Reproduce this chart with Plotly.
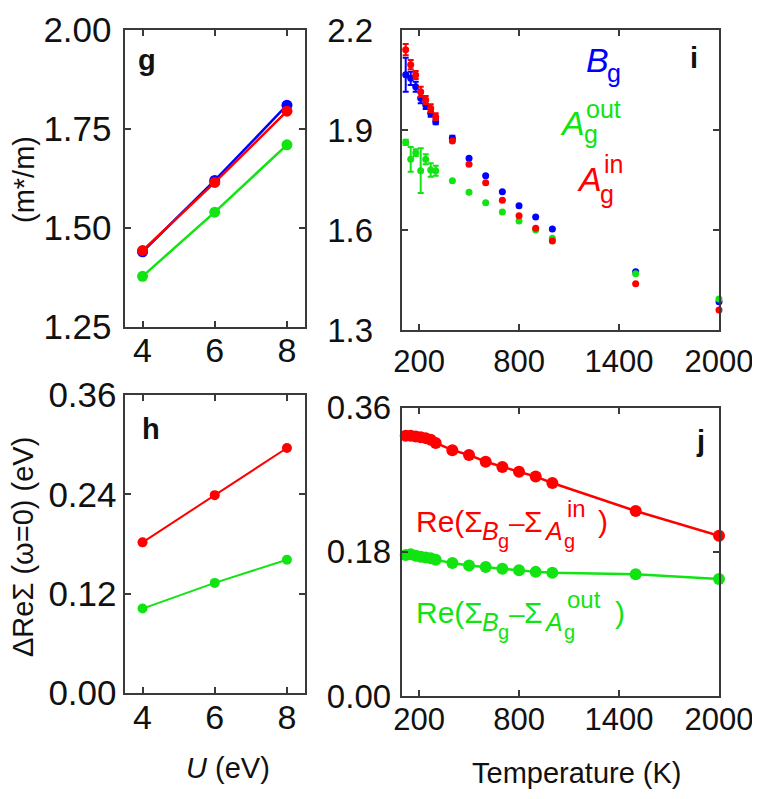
import plotly.graph_objects as go

# ---------------- data ----------------
U_vals = [4, 6, 8]
g_Bg = [1.44, 1.62, 1.81]
g_Ain = [1.443, 1.615, 1.795]
g_Aout = [1.378, 1.54, 1.71]

h_in = [0.182, 0.239, 0.296]
h_out = [0.102, 0.133, 0.161]

T_vals = [120, 150, 180, 210, 240, 270, 300, 400, 500, 600, 700, 800, 900, 1000, 1500, 2000]
i_Bg = [2.066, 2.055, 2.03, 1.995, 1.975, 1.95, 1.925, 1.875, 1.815, 1.763, 1.715, 1.673, 1.639, 1.603, 1.475, 1.385]
i_Bg_err = [0.051, 0.02, 0.015, 0.015, 0.012, 0.01, 0.008, 0.008, 0, 0, 0, 0, 0, 0, 0, 0]
i_Ain = [2.141, 2.096, 2.065, 2.015, 1.99, 1.965, 1.94, 1.867, 1.797, 1.742, 1.689, 1.643, 1.605, 1.567, 1.439, 1.36]
i_Ain_err = [0.017, 0.014, 0.012, 0.015, 0.012, 0.012, 0.01, 0, 0, 0, 0, 0, 0, 0, 0, 0]
i_Aout = [1.863, 1.812, 1.832, 1.778, 1.812, 1.78, 1.778, 1.748, 1.713, 1.682, 1.654, 1.627, 1.60, 1.575, 1.469, 1.393]
i_Aout_err = [0.008, 0.037, 0.01, 0.067, 0.015, 0.02, 0.015, 0, 0, 0, 0, 0, 0, 0, 0, 0]

j_in = [0.325, 0.325, 0.324, 0.323, 0.322, 0.320, 0.316, 0.307, 0.301, 0.2925, 0.286, 0.280, 0.274, 0.266, 0.231, 0.200]
j_out = [0.176, 0.177, 0.175, 0.174, 0.173, 0.172, 0.170, 0.166, 0.163, 0.161, 0.159, 0.157, 0.155, 0.154, 0.152, 0.146]

g_ticks = [1.25, 1.50, 1.75, 2.00]
h_ticks = [0.00, 0.12, 0.24, 0.36]
i_ticks = [1.3, 1.6, 1.9, 2.2]
j_ticks = [0.00, 0.18, 0.36]
U_ticks = [4, 6, 8]
T_ticks = [200, 800, 1400, 2000]

BLUE = "#0000ff"
RED = "#ff0000"
GREEN = "#12e312"
FONT = "Liberation Sans, Arial, Helvetica, sans-serif"
OFF = 8  # default page body margin
W, H = 760 - 2 * OFF, 799 - 2 * OFF


def px(x):
    return (x - OFF) / W


def py(y):
    return 1 - (y - OFF) / H


fig = go.Figure()

# panel g
for vals, col in [(g_Bg, BLUE), (g_Aout, GREEN), (g_Ain, RED)]:
    fig.add_trace(go.Scatter(x=U_vals, y=vals, mode="lines+markers", xaxis="x", yaxis="y",
                             line=dict(color=col, width=2.5), marker=dict(color=col, size=11),
                             showlegend=False, cliponaxis=False))
# panel i
for vals, err, col in [(i_Bg, i_Bg_err, BLUE), (i_Aout, i_Aout_err, GREEN), (i_Ain, i_Ain_err, RED)]:
    fig.add_trace(go.Scatter(x=T_vals, y=vals, mode="markers", xaxis="x2", yaxis="y2",
                             marker=dict(color=col, size=7),
                             error_y=dict(type="data", array=err, visible=True, color=col,
                                          thickness=2, width=3),
                             showlegend=False, cliponaxis=False))
# panel h
for vals, col in [(h_out, GREEN), (h_in, RED)]:
    fig.add_trace(go.Scatter(x=U_vals, y=vals, mode="lines+markers", xaxis="x3", yaxis="y3",
                             line=dict(color=col, width=2), marker=dict(color=col, size=10),
                             showlegend=False, cliponaxis=False))
# panel j
for vals, col in [(j_out, GREEN), (j_in, RED)]:
    fig.add_trace(go.Scatter(x=T_vals, y=vals, mode="lines+markers", xaxis="x4", yaxis="y4",
                             line=dict(color=col, width=2.5), marker=dict(color=col, size=12),
                             showlegend=False, cliponaxis=False))

axis_common = dict(showline=True, linecolor="#3a3a3a", linewidth=2, mirror="ticks",
                   ticks="inside", ticklen=6, tickwidth=1.5, tickcolor="#3a3a3a",
                   showgrid=False, zeroline=False, automargin=False,
                   ticklabeloverflow="allow")


def tf(size):
    return dict(family=FONT, size=size, color="#111111")


xl, xr = 124.5, 305
tl, tr = 401.7, 719

fig.update_layout(
    width=W, height=H, margin=dict(l=0, r=0, t=0, b=0, autoexpand=False),
    paper_bgcolor="white", plot_bgcolor="white",
    xaxis=dict(axis_common, domain=[px(xl), px(xr)], range=[3.5, 8.5], tickvals=U_ticks,
               anchor="y", ticklabelstandoff=-8, tickfont=tf(34)),
    yaxis=dict(axis_common, domain=[py(327), py(30)], range=[1.25, 2.0], tickvals=g_ticks,
               ticktext=["%.2f" % v for v in g_ticks], anchor="x", ticklabelstandoff=4,
               tickfont=tf(35)),
    xaxis2=dict(axis_common, domain=[px(tl), px(tr)], range=[96, 2000], tickvals=T_ticks,
                anchor="y2", ticklabelstandoff=3, tickfont=tf(31)),
    yaxis2=dict(axis_common, domain=[py(330), py(30)], range=[1.3, 2.2], tickvals=i_ticks,
                ticktext=["%.1f" % v for v in i_ticks], anchor="x2", ticklabelstandoff=20,
                tickfont=tf(33)),
    xaxis3=dict(axis_common, domain=[px(xl), px(xr)], range=[3.5, 8.5], tickvals=U_ticks,
                anchor="y3", ticklabelstandoff=-7, tickfont=tf(34)),
    yaxis3=dict(axis_common, domain=[py(693), py(395)], range=[0, 0.36], tickvals=h_ticks,
                ticktext=["%.2f" % v for v in h_ticks], anchor="x3", ticklabelstandoff=-1,
                tickfont=tf(35)),
    xaxis4=dict(axis_common, domain=[px(tl), px(tr)], range=[96, 2000], tickvals=T_ticks,
                anchor="y4", ticklabelstandoff=-5, tickfont=tf(31)),
    yaxis4=dict(axis_common, domain=[py(696), py(407.7)], range=[0, 0.36], tickvals=j_ticks,
                ticktext=["%.2f" % v for v in j_ticks], anchor="x4", ticklabelstandoff=2,
                tickfont=tf(33)),
)

ann = []


def text(x, y, t, size, color="#111111", xanchor="center", angle=0):
    ann.append(dict(x=px(x), y=py(y), xref="paper", yref="paper", text=t, showarrow=False,
                    xanchor=xanchor, yanchor="middle", textangle=angle,
                    font=dict(family=FONT, size=size, color=color)))


# panel letters
text(147, 60, "<b>g</b>", 29)
text(151, 429, "<b>h</b>", 29)
text(694, 58, "<b>i</b>", 29)
text(700, 441, "<b>j</b>", 29)

# axis titles
text(24, 180, "(m*/m)", 29, angle=-90)
text(23, 547, "ΔReΣ (ω=0) (eV)", 29, angle=-90)
text(228, 768, "<i>U</i> (eV)", 29)
text(577, 773, "Temperature (K)", 29)

# legend in panel i
text(597, 60, "<i>B</i>", 34, BLUE)
text(614, 73, "g", 25, BLUE)
text(572, 123, "<i>A</i>", 34, GREEN)
text(603, 109, "out", 25, GREEN)
text(591, 134, "g", 25, GREEN)
text(589, 179, "<i>A</i>", 34, RED)
text(613, 164, "in", 25, RED)
text(607, 194, "g", 25, RED)


# labels in panel j
def re_label(y0, sup, color):
    text(414, y0, "Re(Σ", 30, color, xanchor="left")
    text(480, y0 + 10, "<i>B</i>", 25, color, xanchor="left")
    text(496, y0 + 20, "g", 20, color, xanchor="left")
    text(507, y0 + 1, "–", 28, color, xanchor="left")
    text(522, y0, "Σ", 30, color, xanchor="left")
    text(542, y0 + 10, "<i>A</i>", 25, color, xanchor="left")
    text(565, y0 - 13, sup, 24, color, xanchor="left")
    text(562, y0 + 20, "g", 20, color, xanchor="left")
    text(596 if sup == "in" else 613, y0, ")", 30, color, xanchor="left")


re_label(521, "in", RED)
re_label(612, "out", GREEN)

fig.update_layout(annotations=ann)
fig.write_html("out.html")
